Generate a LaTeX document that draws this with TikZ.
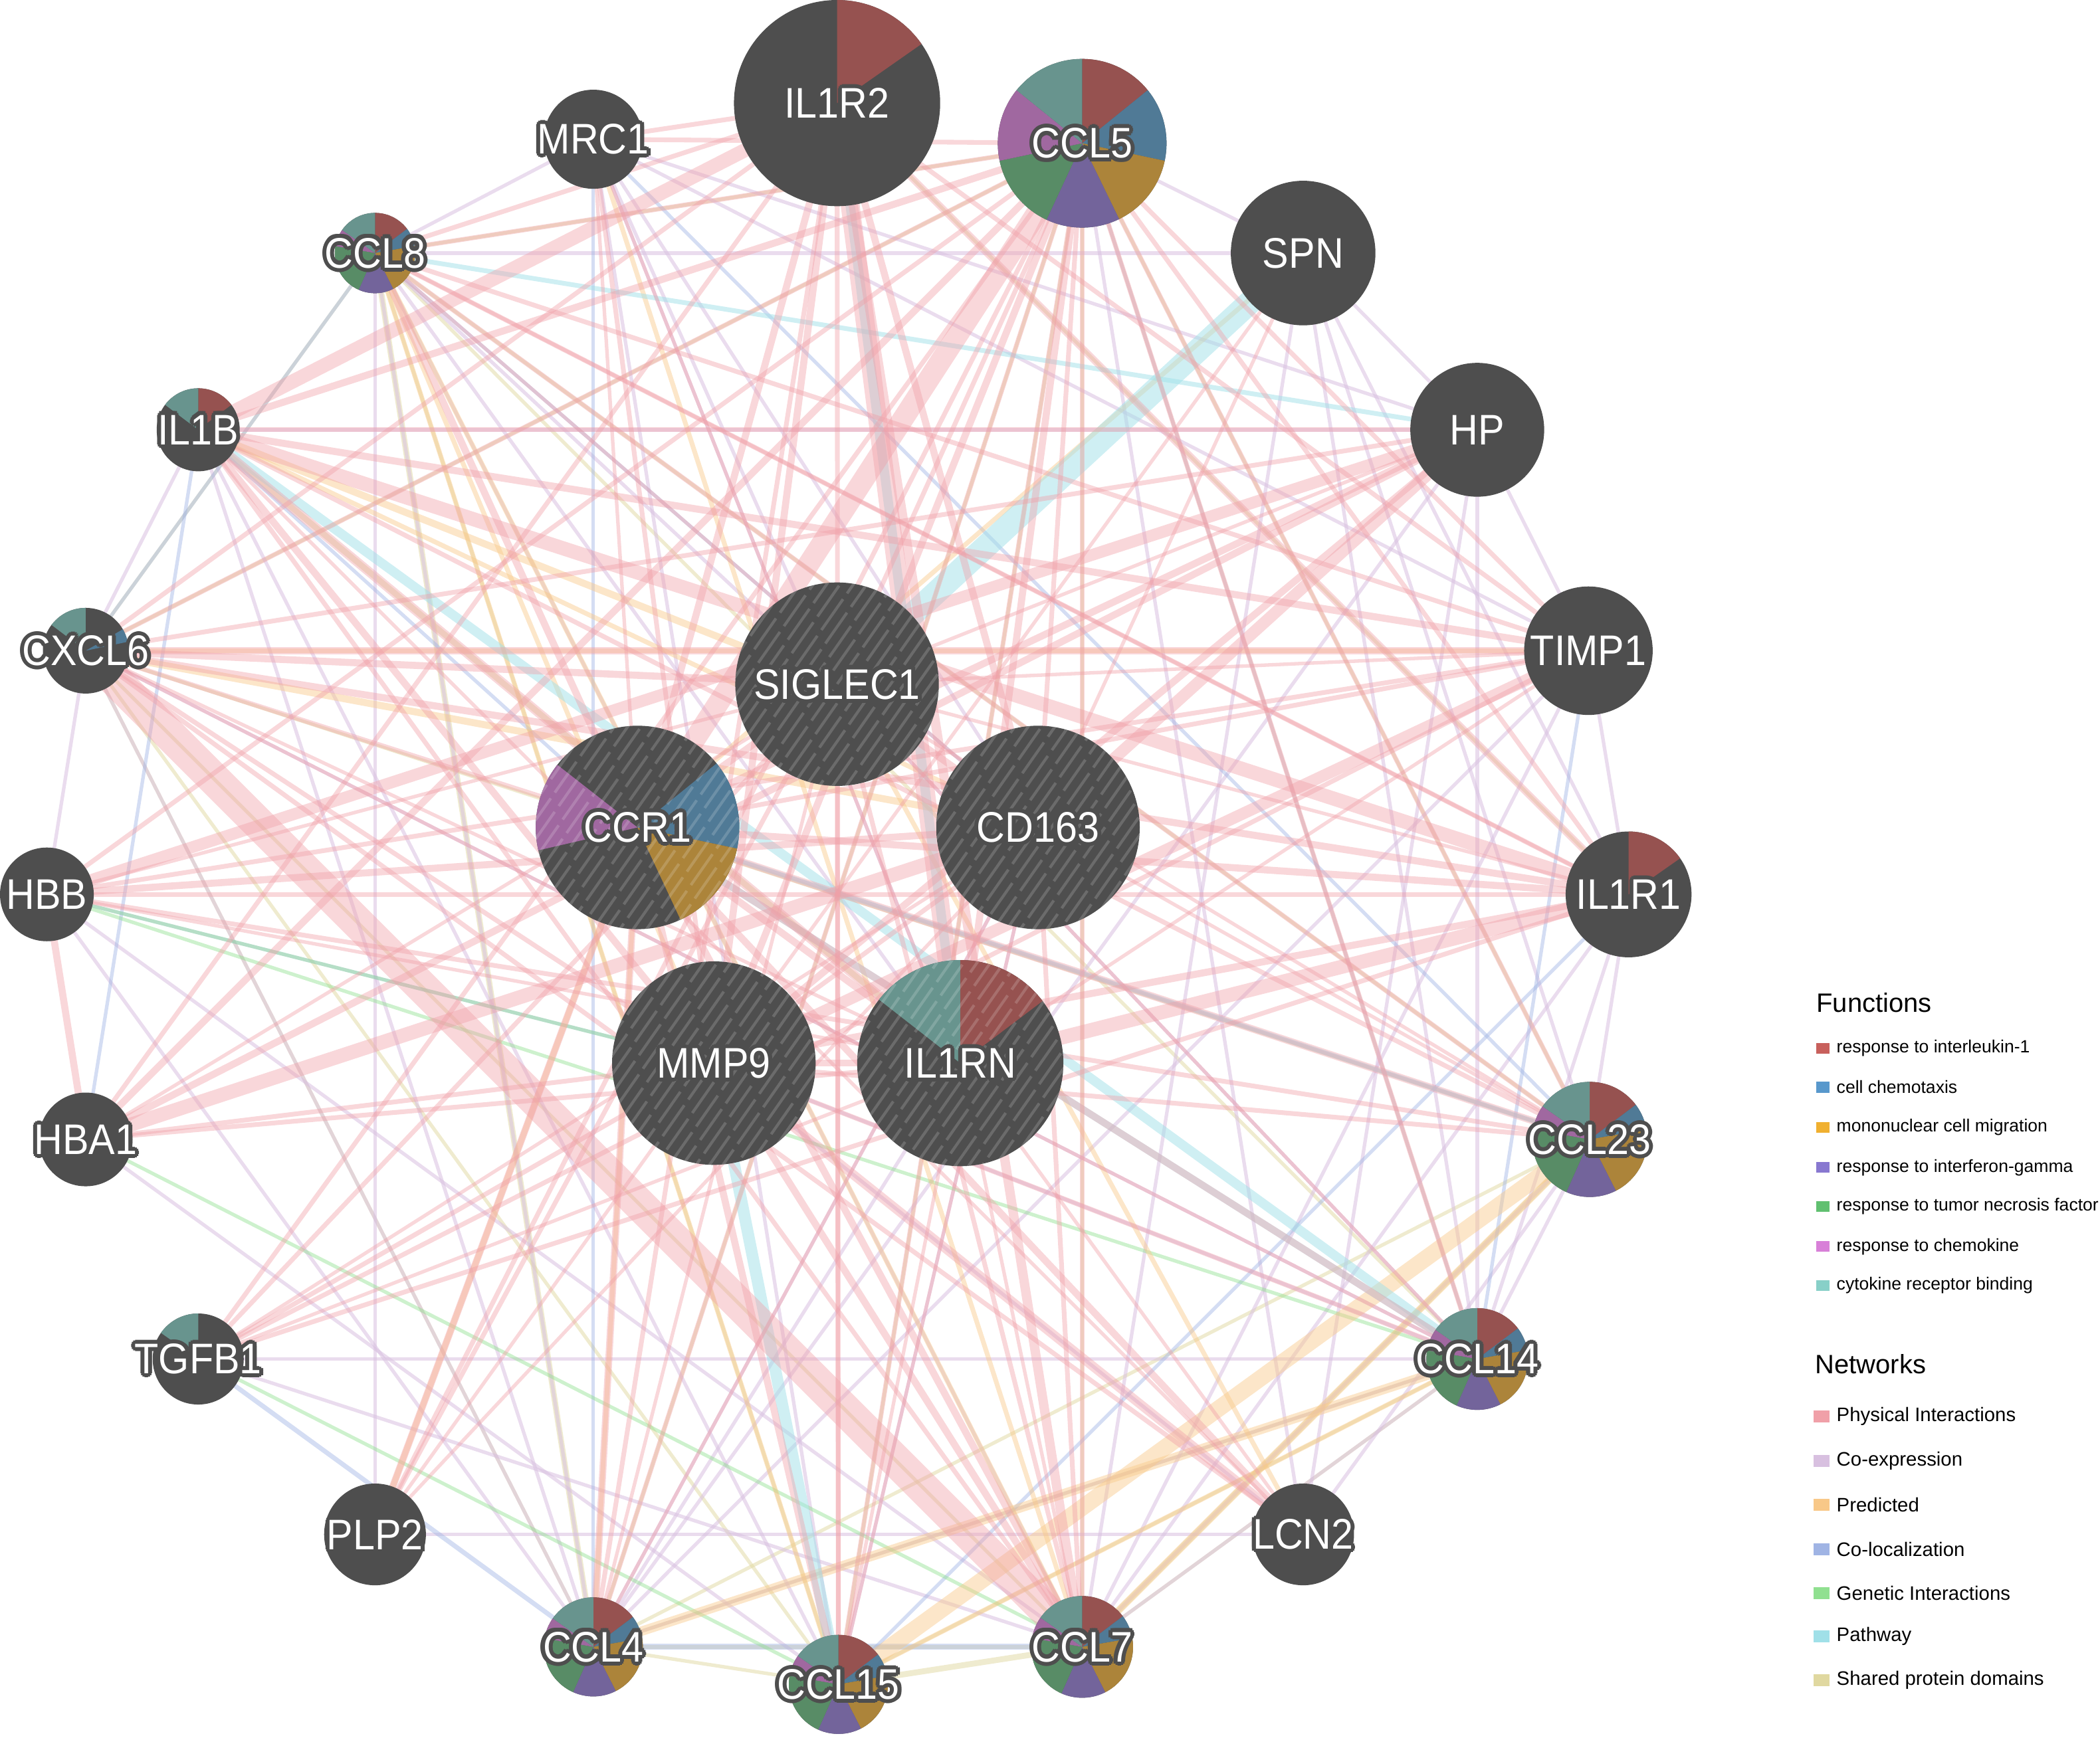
\documentclass[tikz,border=0pt]{standalone}
\usepackage{fontspec}
\setmainfont{Liberation Sans}
\newfontfamily\genefont[FakeStretch=0.92]{Liberation Sans}
\usepackage{tikz}
\usetikzlibrary{backgrounds}

\definecolor{nodegray}{HTML}{4E4E4E}
% pie wedge colours
\definecolor{wred}{HTML}{965250}
\definecolor{wblue}{HTML}{507A96}
\definecolor{wgold}{HTML}{AC843A}
\definecolor{wpurple}{HTML}{73649B}
\definecolor{wgreen}{HTML}{588C66}
\definecolor{wpink}{HTML}{A068A0}
\definecolor{wteal}{HTML}{68948E}
% legend colours
\definecolor{lred}{HTML}{C8605C}
\definecolor{lblue}{HTML}{5898CC}
\definecolor{lgold}{HTML}{F0B030}
\definecolor{lpurple}{HTML}{8878D0}
\definecolor{lgreen}{HTML}{60C070}
\definecolor{lpink}{HTML}{D880D8}
\definecolor{lteal}{HTML}{88D0C8}
% network colours
\definecolor{cphys}{HTML}{F0A0A8}
\definecolor{ccoex}{HTML}{D8C0E0}
\definecolor{cpred}{HTML}{F8C888}
\definecolor{ccoloc}{HTML}{A0B4E4}
\definecolor{cgen}{HTML}{90E090}
\definecolor{cpath}{HTML}{A0E0E8}
\definecolor{cshare}{HTML}{E0D8A0}

\newcommand{\halotext}[1]{\makebox[0pt]{{\color{nodegray}%
  \foreach \hx/\hy in {1.7/0,1.47/0.85,0.85/1.47,0/1.7,-0.85/1.47,-1.47/0.85,-1.7/0,-1.47/-0.85,-0.85/-1.47,0/-1.7,0.85/-1.47,1.47/-0.85}%
  {\rlap{\hspace*{\hx pt}\raisebox{\hy pt}{#1}}}}#1}}

\tikzset{
  gene/.style={circle, fill=nodegray, inner sep=0pt, text=white, font=\genefont\fontsize{18.2}{18.2}\selectfont},
  pie/.style={path picture={\foreach \wa/\wb/\wc in {#1}{\fill[\wc] (path picture bounding box.center) -- ++(\wa:2cm) arc[start angle=\wa, end angle=\wb, radius=2cm] -- cycle;}}},
  qpie/.style={path picture={\foreach \wa/\wb/\wc in {#1}{\fill[\wc] (path picture bounding box.center) -- ++(\wa:2cm) arc[start angle=\wa, end angle=\wb, radius=2cm] -- cycle;}
    \foreach \k in {-10,...,10}{\draw[white, draw opacity=0.17, line width=1.2pt, dash pattern=on 16pt off 3pt, dash phase=\k*7pt] ([shift={(\k*0.2cm-1.147cm,-1.638cm)}]path picture bounding box.center) -- ++(55:4cm);}}},
  query/.style={path picture={\foreach \k in {-10,...,10}{\draw[white, draw opacity=0.17, line width=1.2pt, dash pattern=on 16pt off 3pt, dash phase=\k*7pt] ([shift={(\k*0.2cm-1.147cm,-1.638cm)}]path picture bounding box.center) -- ++(55:4cm);}}},
  phys/.style={draw=cphys, draw opacity=0.42, line width=#1}, phys/.default=1.5pt,
  coex/.style={draw=ccoex, draw opacity=0.55, line width=#1}, coex/.default=1.5pt,
  pred/.style={draw=cpred, draw opacity=0.45, line width=#1}, pred/.default=1.5pt,
  coloc/.style={draw=ccoloc, draw opacity=0.45, line width=#1}, coloc/.default=1.5pt,
  gen/.style={draw=cgen, draw opacity=0.45, line width=#1}, gen/.default=1.5pt,
  pathw/.style={draw=cpath, draw opacity=0.5, line width=#1}, pathw/.default=1.5pt,
  share/.style={draw=cshare, draw opacity=0.5, line width=#1}, share/.default=1.5pt,
  fnbox/.style={minimum width=0.2cm, minimum height=0.16cm, inner sep=0pt},
  netbox/.style={minimum width=0.24cm, minimum height=0.18cm, inner sep=0pt},
}

\begin{document}
\begin{tikzpicture}[x=0.02cm, y=-0.02cm]
  \useasboundingbox (0,0) rectangle (1568,1297.6);

  % outer ring
  \node[gene, minimum size=3.08cm, pie={90/35/wred}] (il1r2) at (625,77) {\halotext{IL1R2}};
  \node[gene, minimum size=2.52cm, pie={90/39/wred,39/-12/wblue,-12/-64/wgold,-64/-115/wpurple,-115/-168/wgreen,-168/-219/wpink,-219/-270/wteal}] (ccl5) at (808,107) {\halotext{CCL5}};
  \node[gene, minimum size=1.48cm] (mrc1) at (443,104) {\halotext{MRC1}};
  \node[gene, minimum size=1.2cm, pie={90/37/wred,37/10/wblue,10/-63/wgold,-63/-114/wpurple,-114/-190/wgreen,-190/-215/wpink,-215/-270/wteal}] (ccl8) at (280,189) {\halotext{CCL8}};
  \node[gene, minimum size=1.24cm, pie={90/37/wred,143/90/wteal}] (il1b) at (148,321) {\halotext{IL1B}};
  \node[gene, minimum size=1.28cm, pie={143/90/wteal,30/12/wblue}] (cxcl6) at (64,486) {\halotext{CXCL6}};
  \node[gene, minimum size=1.4cm] (hbb) at (35,668) {\halotext{HBB}};
  \node[gene, minimum size=1.4cm] (hba1) at (64,851) {\halotext{HBA1}};
  \node[gene, minimum size=1.36cm, pie={145/90/wteal}] (tgfb1) at (148,1015) {\halotext{TGFB1}};
  \node[gene, minimum size=1.52cm] (plp2) at (280,1146) {\halotext{PLP2}};
  \node[gene, minimum size=1.48cm, pie={90/37/wred,37/10/wblue,10/-63/wgold,-63/-114/wpurple,-114/-190/wgreen,-190/-215/wpink,-215/-270/wteal}] (ccl4) at (443,1230) {\halotext{CCL4}};
  \node[gene, minimum size=1.48cm, pie={90/37/wred,37/10/wblue,10/-63/wgold,-63/-114/wpurple,-114/-190/wgreen,-190/-215/wpink,-215/-270/wteal}] (ccl15) at (626,1258) {\halotext{CCL15}};
  \node[gene, minimum size=1.52cm, pie={90/37/wred,37/10/wblue,10/-63/wgold,-63/-114/wpurple,-114/-190/wgreen,-190/-215/wpink,-215/-270/wteal}] (ccl7) at (808,1230) {\halotext{CCL7}};
  \node[gene, minimum size=1.52cm] (lcn2) at (973,1146) {\halotext{LCN2}};
  \node[gene, minimum size=1.52cm, pie={90/37/wred,37/10/wblue,10/-63/wgold,-63/-114/wpurple,-114/-190/wgreen,-190/-215/wpink,-215/-270/wteal}] (ccl14) at (1103,1015) {\halotext{CCL14}};
  \node[gene, minimum size=1.72cm, pie={90/37/wred,37/10/wblue,10/-63/wgold,-63/-114/wpurple,-114/-190/wgreen,-190/-215/wpink,-215/-270/wteal}] (ccl23) at (1187,851) {\halotext{CCL23}};
  \node[gene, minimum size=1.88cm, pie={90/35/wred}] (il1r1) at (1216,668) {\halotext{IL1R1}};
  \node[gene, minimum size=1.92cm] (timp1) at (1186,486) {\halotext{TIMP1}};
  \node[gene, minimum size=2.0cm] (hp) at (1103,321) {\halotext{HP}};
  \node[gene, minimum size=2.16cm] (spn) at (973,189) {\halotext{SPN}};

  % query genes
  \node[gene, minimum size=3.04cm, query] (siglec1) at (625,511) {\halotext{SIGLEC1}};
  \node[gene, minimum size=3.04cm, qpie={39/-12/wblue,-12/-65/wgold,193/142/wpink}] (ccr1) at (476,618) {\halotext{CCR1}};
  \node[gene, minimum size=3.04cm, query] (cd163) at (775,618) {\halotext{CD163}};
  \node[gene, minimum size=3.04cm, query] (mmp9) at (533,794) {\halotext{MMP9}};
  \node[gene, minimum size=3.08cm, qpie={90/37/wred,142/90/wteal}] (il1rn) at (717,794) {\halotext{IL1RN}};

  \begin{scope}[on background layer]
    \foreach \ga/\gb/\w in {ccl4/ccl15/1.5pt, ccl4/ccl7/1.5pt, ccl15/ccl7/2.5pt, ccl15/ccl14/1.5pt, ccl4/ccl23/1.5pt,
      ccl7/ccl14/1.5pt, ccl5/ccl4/1.5pt, ccl5/ccl15/1.5pt, ccl5/ccl7/1.5pt, ccl5/ccl23/1.5pt, ccl5/ccl8/1.5pt,
      ccl8/ccl4/2.5pt, ccl8/ccl14/1.5pt, ccl8/ccl23/1.5pt, cxcl6/ccl5/1.5pt, cxcl6/ccl8/1.5pt, cxcl6/ccl15/1.5pt,
      cxcl6/ccl4/1.5pt, cxcl6/ccl7/1.5pt, cxcl6/ccl23/1.5pt, il1b/il1rn/2.5pt, il1r1/il1r2/1.5pt, ccl5/ccl14/1.5pt,
      ccl7/ccl23/2.5pt, ccl8/ccl15/1.5pt, ccl4/ccl14/1.5pt}
      \draw[share=\w] (\ga.center) -- (\gb.center);
    \foreach \ga/\gb in {mrc1/cd163, mrc1/siglec1, mrc1/ccl8, mrc1/hp, mrc1/timp1, mrc1/il1rn, mrc1/ccl15,
      siglec1/ccl8, ccl8/ccl7, ccl8/ccl4, ccl8/il1rn, il1b/hp, il1b/ccl4, il1b/ccl15, cxcl6/ccl4, plp2/lcn2,
      ccl23/ccl14, ccl14/ccl7, ccl5/spn, spn/hp, spn/il1r1, spn/ccl14, hp/timp1, timp1/il1r1, il1r1/ccl23,
      il1rn/ccl4, cd163/ccl15, mmp9/lcn2, ccl5/lcn2, spn/ccl23, hp/ccl14, hbb/ccl4, hba1/ccl15, tgfb1/ccl7,
      ccl5/ccl14, spn/ccl8, timp1/ccl7, hp/lcn2, il1r1/ccl14, cd163/ccl4, siglec1/ccl14, ccr1/ccl23,
      mmp9/ccl14, ccl23/ccl7, ccl14/ccl4, lcn2/ccl23, cxcl6/hbb, il1b/cxcl6, plp2/ccl8, tgfb1/ccl14,
      spn/ccl7, hp/ccl4, timp1/ccl4, il1r1/ccl7, cxcl6/ccl14, hbb/ccl7}
      \draw[coex] (\ga.center) -- (\gb.center);
    \foreach \ga/\gb/\w in {mrc1/ccl4/1.5pt, ccl4/ccl7/2.5pt, il1b/hba1/1.5pt, tgfb1/ccl4/2pt, hbb/mmp9/1.5pt,
      il1b/ccr1/1.5pt, cxcl6/ccl8/1.5pt, timp1/ccl14/1.5pt, ccl8/cd163/1.5pt, il1r1/ccl15/1.5pt, mrc1/ccl23/1.5pt}
      \draw[coloc=\w] (\ga.center) -- (\gb.center);
    \foreach \ga/\gb in {hbb/mmp9, hbb/ccl14, tgfb1/ccl15, hba1/ccl7}
      \draw[gen] (\ga.center) -- (\gb.center);
    \foreach \ga/\gb/\w in {ccl15/ccl23/7pt, ccl4/ccl14/4pt, ccl7/ccl23/3pt, ccl8/ccl15/2pt, ccl8/ccl7/2pt,
      il1b/siglec1/3pt, spn/ccr1/2pt, cxcl6/cd163/3pt, ccr1/ccl4/2pt, plp2/ccr1/2.5pt, mrc1/ccl7/2pt,
      cxcl6/timp1/2pt, ccl8/mmp9/2pt, lcn2/siglec1/2pt, ccl15/ccl14/2pt, il1b/cd163/2pt}
      \draw[pred=\w] (\ga.center) -- (\gb.center);
    \foreach \ga/\gb/\w in {spn/siglec1/10pt, mmp9/ccl15/5pt, il1r2/il1rn/4pt, ccl14/il1b/4pt, ccr1/ccl14/3pt,
      ccl8/hp/2pt, ccr1/ccl23/2pt}
      \draw[pathw=\w] (\ga.center) -- (\gb.center);
    \foreach \ga/\gb/\w in {ccl5/ccr1/9pt, ccl5/ccl8/2pt, ccl5/il1b/3pt, ccl5/cxcl6/2pt, ccl5/mmp9/3pt,
      ccl5/tgfb1/2pt, ccl5/ccl4/2pt, ccl5/ccl7/2pt, ccl5/il1rn/3pt, ccl5/cd163/2pt, ccl5/siglec1/2pt,
      ccl5/hbb/2pt, ccl5/hba1/3pt, ccl5/plp2/2pt, ccl5/ccl15/2pt, ccl5/il1r1/2pt, ccl5/timp1/2pt,
      il1r2/il1b/6pt, il1r2/il1rn/8pt, il1r2/il1r1/3pt, il1r2/mmp9/3pt, il1r2/ccr1/3pt, il1r2/ccl15/2pt,
      il1r2/cxcl6/2pt, il1r2/ccl8/2pt, il1r2/timp1/2pt, il1r2/ccl7/4pt, il1r2/hba1/2pt, il1r2/cd163/3pt,
      il1b/il1r1/6pt, il1b/il1rn/4pt, il1b/mmp9/3pt, il1b/timp1/3pt, il1b/ccl23/2pt, il1b/ccl7/2pt,
      cxcl6/ccl7/14pt, cxcl6/il1r1/3pt, cxcl6/timp1/3pt, cxcl6/ccr1/2pt, cxcl6/mmp9/2pt, cxcl6/siglec1/3pt,
      hbb/hba1/3pt, hbb/cd163/3pt, hbb/hp/5pt, hbb/il1r1/2pt, hbb/ccl23/2pt, hbb/timp1/2pt,
      hba1/cd163/6pt, hba1/hp/3pt, hba1/il1rn/2pt, hba1/mmp9/2pt, tgfb1/mmp9/2pt, tgfb1/timp1/2pt,
      tgfb1/siglec1/2pt, tgfb1/il1r1/2pt, plp2/siglec1/2pt, plp2/ccr1/3pt, ccl4/ccr1/3pt, ccl4/il1r2/2pt,
      ccl15/ccr1/3pt, ccl15/siglec1/2pt, ccl7/ccr1/3pt, ccl7/mmp9/3pt, ccl7/siglec1/2pt, ccl7/cd163/2pt,
      lcn2/mmp9/4pt, lcn2/ccr1/3pt, lcn2/cxcl6/2pt, ccl14/ccr1/3pt, ccl14/mmp9/2pt, ccl14/ccl5/2pt,
      ccl23/ccr1/3pt, ccl23/ccl5/2pt, ccl23/mmp9/2pt, ccl23/ccl8/2pt, il1r1/il1rn/6pt, il1r1/ccr1/3pt,
      il1r1/mmp9/3pt, il1r1/ccl8/2pt, timp1/mmp9/5pt, timp1/ccr1/2pt, timp1/ccl8/2pt, hp/cd163/5pt,
      hp/ccr1/3pt, hp/mmp9/3pt, hp/il1b/2pt, hp/cxcl6/2pt, mrc1/il1r2/2pt, mrc1/ccl5/2pt, mrc1/mmp9/2pt,
      siglec1/cd163/3pt, siglec1/ccr1/3pt, ccr1/il1rn/3pt, mmp9/il1rn/3pt, cd163/mmp9/2pt,
      ccl8/ccr1/3pt, ccl8/il1r1/1.5pt, ccl8/cd163/1.5pt, cxcl6/il1rn/1.5pt, cxcl6/ccl14/1.5pt,
      hbb/siglec1/1.5pt, hbb/il1rn/1.5pt, hba1/siglec1/1.5pt, tgfb1/cd163/1.5pt, tgfb1/il1rn/1.5pt,
      plp2/mmp9/1.5pt, plp2/cd163/1.5pt, ccl4/siglec1/1.5pt, ccl4/cd163/1.5pt, ccl15/cd163/1.5pt,
      ccl15/il1rn/1.5pt, ccl7/il1rn/1.5pt, lcn2/il1b/1.5pt, lcn2/il1rn/1.5pt, ccl14/siglec1/1.5pt,
      ccl23/siglec1/1.5pt, ccl23/cd163/1.5pt, il1r1/siglec1/1.5pt, timp1/siglec1/1.5pt, timp1/il1rn/1.5pt,
      hp/siglec1/1.5pt, spn/cd163/1.5pt, spn/mmp9/1.5pt, mrc1/ccr1/1.5pt, mrc1/il1rn/1.5pt}
      \draw[phys=\w] (\ga.center) -- (\gb.center);
  \end{scope}

  % legend
  \node[anchor=west, inner sep=0pt, font=\fontsize{11.3}{13}\selectfont] (fhead) at (1356,749) {Functions};
  \foreach \y/\col/\txt [count=\i] in {783/lred/response to interleukin-1, 812/lblue/cell chemotaxis,
    842/lgold/mononuclear cell migration, 872/lpurple/response to interferon-gamma,
    901/lgreen/response to tumor necrosis factor, 931/lpink/response to chemokine,
    960/lteal/cytokine receptor binding} {
    \node[fnbox, fill=\col] (fbox\i) at (1361,\y) {};
    \node[anchor=west, inner sep=0pt, font=\fontsize{7.5}{9}\selectfont] (ftext\i) at (1371,\y) {\txt};
  }
  \node[anchor=west, inner sep=0pt, font=\fontsize{11.3}{13}\selectfont] (nhead) at (1355,1019) {Networks};
  \foreach \y/\col/\txt [count=\i] in {1058/cphys/Physical Interactions, 1091/ccoex/Co-expression,
    1124/cpred/Predicted, 1157/ccoloc/Co-localization, 1190/cgen/Genetic Interactions,
    1222/cpath/Pathway, 1255/cshare/Shared protein domains} {
    \node[netbox, fill=\col] (nbox\i) at (1360,\y) {};
    \node[anchor=west, inner sep=0pt, font=\fontsize{8.3}{10}\selectfont] (ntext\i) at (1371,\y) {\txt};
  }
\end{tikzpicture}
\end{document}
